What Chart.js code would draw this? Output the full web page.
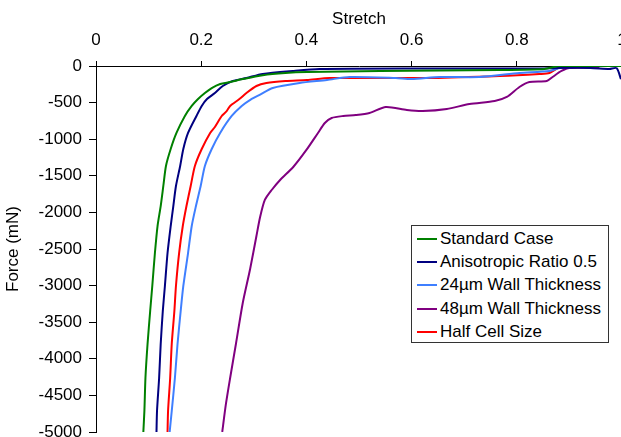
<!DOCTYPE html>
<html>
<head>
<meta charset="utf-8">
<script src="https://cdn.jsdelivr.net/npm/chart.js@4.4.0/dist/chart.umd.min.js"></script>
<style>
  html, body { margin: 0; padding: 0; background: #fff; overflow: hidden; }
  #wrap { position: relative; width: 622px; height: 437px; }
  #legend {
    position: absolute; left: 411px; top: 225px; width: 198px; height: 118px;
    box-sizing: border-box; border: 1px solid #333; background: #fff;
    font-family: 'Liberation Sans', Arial, sans-serif; font-size: 17px; color: #000;
    padding-top: 1px;
  }
  .row { display: flex; align-items: center; height: 23.4px; white-space: nowrap; }
  .swatch { width: 20px; height: 2px; margin-left: 5px; margin-right: 3px; }
</style>
</head>
<body>
<div id="wrap">
  <canvas id="chart"></canvas>
  <div id="legend"></div>
</div>
<script>
const seriesNames = ['Standard Case', 'Anisotropic Ratio 0.5', '24\u00b5m Wall Thickness', '48\u00b5m Wall Thickness', 'Half Cell Size'];
const seriesColors = ['#008000', '#000080', '#3f7fff', '#800080', '#ff0000'];

const xTicks = [0, 0.2, 0.4, 0.6, 0.8, 1];
const yTicks = [0, -500, -1000, -1500, -2000, -2500, -3000, -3500, -4000, -4500, -5000];

// Standard Case
const standardStretch = [0.090, 0.092, 0.094, 0.098, 0.103, 0.107, 0.112, 0.117, 0.123, 0.128, 0.133, 0.142, 0.153, 0.169, 0.182, 0.194, 0.207, 0.220, 0.236, 0.255, 0.279, 0.317, 0.36, 0.401, 0.54, 0.767, 0.853, 0.88, 1.0];
const standardForce = [-5000, -4713, -4262, -3798, -3347, -3005, -2555, -2186, -1913, -1639, -1366, -1134, -915, -683, -546, -451, -369, -301, -246, -219, -178, -125, -95, -82, -68, -55, -40, 0, 0];

// Anisotropic Ratio 0.5
const anisoStretch = [0.115, 0.116, 0.120, 0.123, 0.127, 0.131, 0.136, 0.142, 0.147, 0.152, 0.160, 0.166, 0.175, 0.191, 0.201, 0.211, 0.226, 0.241, 0.260, 0.286, 0.317, 0.374, 0.425, 0.615, 0.843, 0.88, 0.94, 0.976, 0.99, 0.998];
const anisoForce = [-5000, -4713, -4262, -3798, -3347, -3005, -2555, -2186, -1913, -1639, -1366, -1134, -915, -683, -546, -451, -369, -273, -205, -164, -109, -68, -41, -34, -34, -27, -27, -40, -30, -180];

// 24um Wall Thickness
const wall24Stretch = [0.140, 0.144, 0.150, 0.155, 0.161, 0.166, 0.175, 0.182, 0.190, 0.199, 0.207, 0.220, 0.236, 0.258, 0.277, 0.294, 0.312, 0.336, 0.387, 0.439, 0.482, 0.570, 0.600, 0.653, 0.729, 0.805, 0.862, 0.881, 0.891, 1.0];
const wall24Force = [-5000, -4713, -4262, -3798, -3347, -3005, -2555, -2186, -1913, -1639, -1366, -1134, -915, -683, -546, -458, -390, -300, -232, -191, -150, -164, -178, -150, -150, -96, -68, -27, 0, 0];

// 48um Wall Thickness
const wall48Stretch = [0.240, 0.247, 0.255, 0.266, 0.279, 0.293, 0.305, 0.312, 0.321, 0.334, 0.350, 0.375, 0.400, 0.422, 0.435, 0.448, 0.470, 0.494, 0.520, 0.551, 0.591, 0.621, 0.667, 0.710, 0.758, 0.781, 0.805, 0.824, 0.857, 0.868, 0.885, 0.900, 0.957];
const wall48Force = [-5000, -4617, -4262, -3798, -3238, -2773, -2322, -2063, -1830, -1694, -1557, -1380, -1147, -915, -779, -710, -683, -670, -642, -560, -601, -615, -587, -519, -478, -423, -287, -219, -205, -150, -68, -27, -27];

// Half Cell Size
const halfStretch = [0.136, 0.137, 0.141, 0.144, 0.149, 0.152, 0.158, 0.165, 0.172, 0.180, 0.188, 0.201, 0.217, 0.226, 0.239, 0.248, 0.255, 0.272, 0.286, 0.305, 0.324, 0.36, 0.401, 0.444, 0.640, 0.767, 0.843, 0.862, 0.887, 1.0];
const halfForce = [-5000, -4713, -4262, -3798, -3347, -3005, -2555, -2186, -1913, -1639, -1366, -1134, -915, -833, -683, -620, -546, -455, -369, -273, -232, -205, -191, -164, -164, -137, -109, -96, 0, 0];

const stretchSets = [standardStretch, anisoStretch, wall24Stretch, wall48Stretch, halfStretch];
const forceSets = [standardForce, anisoForce, wall24Force, wall48Force, halfForce];

const font = { family: "'Liberation Sans', Arial, sans-serif", size: 17 };

const datasets = seriesNames.map((name, i) => ({
  label: name,
  data: stretchSets[i].map((s, j) => ({ x: s, y: forceSets[i][j] })),
  borderColor: seriesColors[i],
  backgroundColor: seriesColors[i],
  borderWidth: 2,
  pointRadius: 0,
  tension: 0.25,
  fill: false
}));

new Chart(document.getElementById('chart'), {
  type: 'line',
  data: { datasets: datasets },
  options: {
    responsive: true,
    maintainAspectRatio: false,
    animation: false,
    layout: { padding: { left: 0, right: 0, top: 0, bottom: 5 } },
    plugins: { legend: { display: false }, tooltip: { enabled: false } },
    scales: {
      x: {
        type: 'linear',
        position: 'top',
        min: 0,
        max: 1,
        afterBuildTicks: (scale) => { scale.ticks = xTicks.map(v => ({ value: v })); },
        afterFit: (scale) => { scale.height = 66; scale.paddingRight = 0; scale.paddingLeft = 0; },
        grid: { drawOnChartArea: false, drawTicks: true, tickLength: 5, color: '#000' },
        border: { display: true, color: '#000', width: 1 },
        ticks: { color: '#000', font: font, padding: 10, maxRotation: 0, callback: (v) => String(v) },
        title: { display: true, text: 'Stretch', color: '#000', font: font, padding: { top: 9, bottom: 0 } }
      },
      y: {
        type: 'linear',
        position: 'left',
        min: -5000,
        max: 0,
        afterBuildTicks: (scale) => { scale.ticks = yTicks.map(v => ({ value: v })); },
        afterFit: (scale) => { scale.width = 96; scale.paddingTop = 0; scale.paddingBottom = 0; },
        grid: { drawOnChartArea: false, drawTicks: true, tickLength: 7, color: '#000' },
        border: { display: true, color: '#000', width: 1 },
        ticks: { color: '#000', font: font, padding: 7, callback: (v) => String(v) },
        title: { display: true, text: 'Force (mN)', color: '#000', font: font, padding: { top: 3, bottom: 0 } }
      }
    }
  }
});

const legendEl = document.getElementById('legend');
seriesNames.forEach((name, i) => {
  const row = document.createElement('div');
  row.className = 'row';
  const sw = document.createElement('span');
  sw.className = 'swatch';
  sw.style.background = seriesColors[i];
  const label = document.createElement('span');
  label.textContent = name;
  row.appendChild(sw);
  row.appendChild(label);
  legendEl.appendChild(row);
});
</script>
</body>
</html>
